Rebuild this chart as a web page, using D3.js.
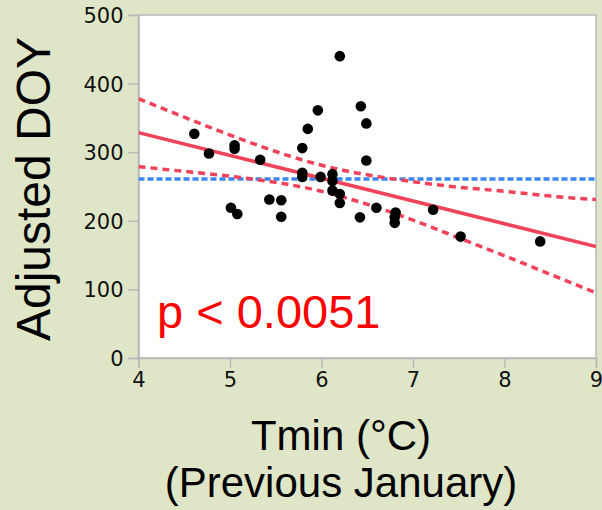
<!DOCTYPE html>
<html><head><meta charset="utf-8">
<script src="https://cdn.jsdelivr.net/npm/d3@7"></script>
<style>
html,body{margin:0;padding:0;background:#dfe6c8;}
svg{display:block;}
</style></head>
<body>
<svg id="chart" width="602" height="510"></svg>
<script>
// ---- data ----
const tminJan = [4.61,4.77,5.05,5.05,5.01,5.08,5.33,5.43,5.56,5.56,5.79,5.79,5.79,5.85,5.96,5.99,6.12,6.12,6.12,6.20,6.20,6.20,6.42,6.43,6.49,6.49,6.60,6.81,6.80,6.80,7.22,7.52,8.39];
const adjDOY  = [327,298,310,305,219,210,289,231,230,206,306,270,264,334,361,264,268,258,244,440,239,226,205,367,342,288,219,212,205,197,216,177,170];
const fitX = [4, 9];
const fitY = [328.5, 162.5];
const ciX     = [4, 4.5, 5, 5.5, 6, 6.5, 7, 7.5, 8, 8.5, 9];
const ciUpper = [378, 351, 325, 301, 281, 267, 257, 249, 243, 236, 231];
const ciLower = [279, 272, 265, 256, 243, 224, 201, 175, 149, 122, 95];
const meanDOY = 261;
const xTicks = [4,5,6,7,8,9];
const yTicks = [0,100,200,300,400,500];
const pLabel = "p < 0.0051";

// ---- layout ----
const svg = d3.select("#chart");
const L = 138.5, R = 596, T = 15, B = 358;
const x = d3.scaleLinear().domain([4,9]).range([L,R]);
const y = d3.scaleLinear().domain([0,500]).range([B,T]);
const gray = "#b8b8b8";
const red = "#f0435a";
const blue = "#3a86f0";

svg.append("rect").attr("width",602).attr("height",510).attr("fill","#dfe6c8");
svg.append("rect").attr("x",L).attr("y",T).attr("width",R-L).attr("height",B-T)
  .attr("fill","#fff").attr("stroke",gray).attr("stroke-width",1.5);

const clip = svg.append("clipPath").attr("id","clip").append("rect")
  .attr("x",L).attr("y",T).attr("width",R-L).attr("height",B-T);

// axes
const tickFont = "'DejaVu Sans', sans-serif";
const ax = svg.append("g").attr("transform",`translate(0,${B})`)
  .call(d3.axisBottom(x).tickValues(xTicks).tickFormat(d3.format("d")).tickSize(10).tickPadding(4));
const ay = svg.append("g").attr("transform",`translate(${L},0)`)
  .call(d3.axisLeft(y).tickValues(yTicks).tickFormat(d3.format("d")).tickSize(10).tickPadding(5));
[ax,ay].forEach(g=>{
  g.select(".domain").attr("stroke",gray).attr("stroke-width",1.5);
  g.selectAll(".tick line").attr("stroke",gray).attr("stroke-width",1.5);
  g.selectAll(".tick text").attr("fill","#111").style("font-family",tickFont).style("font-size","21px");
});
ay.selectAll(".tick text").attr("dy","0.36em");

const plot = svg.append("g").attr("clip-path","url(#clip)");

// mean line (blue dotted)
plot.append("line").attr("x1",x(4)).attr("x2",x(9)).attr("y1",y(meanDOY)).attr("y2",y(meanDOY))
  .attr("stroke",blue).attr("stroke-width",3.5).attr("stroke-dasharray","6,3");

// CI curves
const ciLine = d3.line().x((d,i)=>x(ciX[i])).y(d=>y(d)).curve(d3.curveNatural);
[ciUpper,ciLower].forEach(arr=>{
  plot.append("path").attr("d",ciLine(arr)).attr("fill","none")
    .attr("stroke",red).attr("stroke-width",3.5).attr("stroke-dasharray","7,5");
});

// fit line
plot.append("line").attr("x1",x(fitX[0])).attr("y1",y(fitY[0])).attr("x2",x(fitX[1])).attr("y2",y(fitY[1]))
  .attr("stroke",red).attr("stroke-width",3.5);

// points
plot.selectAll("circle.pt").data(tminJan).enter().append("circle").attr("class","pt")
  .attr("cx",d=>x(d)).attr("cy",(d,i)=>y(adjDOY[i])).attr("r",5.3).attr("fill","#000");

// p label
svg.append("text").attr("x",157).attr("y",328).text(pLabel)
  .attr("fill","#ff0000").style("font-family","'Liberation Sans', Arial, sans-serif").style("font-size","47px");

// axis titles
svg.append("text").attr("transform","translate(50,189) rotate(-90)").attr("text-anchor","middle")
  .text("Adjusted DOY").attr("fill","#000")
  .style("font-family","'Liberation Sans', Arial, sans-serif").style("font-size","48px");
svg.append("text").attr("x",341).attr("y",450).attr("text-anchor","middle").text("Tmin (°C)")
  .attr("fill","#000").style("font-family","'Liberation Sans', Arial, sans-serif").style("font-size","42px");
svg.append("text").attr("x",341).attr("y",497).attr("text-anchor","middle").text("(Previous January)")
  .attr("fill","#000").style("font-family","'Liberation Sans', Arial, sans-serif").style("font-size","42px");
</script>
</body></html>
